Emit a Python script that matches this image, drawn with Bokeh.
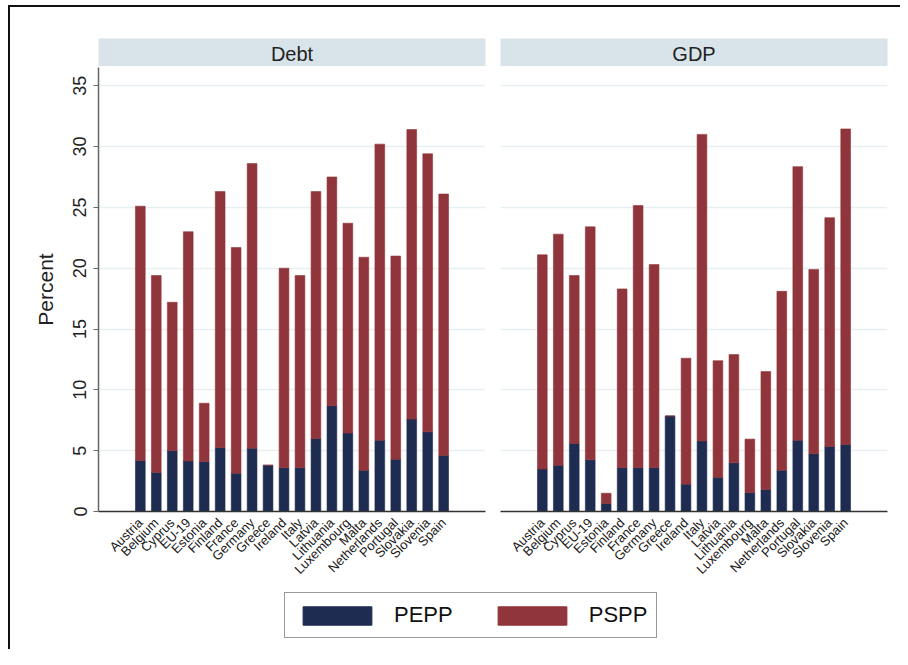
import math
from bokeh.plotting import figure
from bokeh.models import (ColumnDataSource, FactorRange, Range1d, FixedTicker,
                          Label, Legend, LegendItem, Spacer)
from bokeh.layouts import column, row
from bokeh.embed import file_html
from bokeh.resources import INLINE

countries = ["Austria", "Belgium", "Cyprus", "EU-19", "Estonia", "Finland", "France",
             "Germany", "Greece", "Ireland", "Italy", "Latvia", "Lithuania", "Luxembourg",
             "Malta", "Netherlands", "Portugal", "Slovakia", "Slovenia", "Spain"]

debt_pepp = [4.2, 3.2, 5.0, 4.15, 4.1, 5.25, 3.15, 5.2, 3.8, 3.6,
             3.6, 6.0, 8.7, 6.45, 3.4, 5.85, 4.3, 7.6, 6.55, 4.6]
debt_pspp = [20.9, 16.2, 12.2, 18.85, 4.8, 21.05, 18.55, 23.4, 0.0, 16.4,
             15.8, 20.3, 18.8, 17.25, 17.5, 24.35, 16.7, 23.8, 22.85, 21.5]

gdp_pepp = [3.5, 3.8, 5.6, 4.25, 0.65, 3.6, 3.6, 3.6, 7.85, 2.25,
            5.8, 2.8, 4.0, 1.55, 1.8, 3.4, 5.85, 4.75, 5.35, 5.5]
gdp_pspp = [17.6, 19.0, 13.8, 19.15, 0.85, 14.7, 21.55, 16.7, 0.0, 10.35,
            25.2, 9.6, 8.9, 4.4, 9.7, 14.7, 22.5, 15.15, 18.8, 25.95]

panels = ["Debt", "GDP"]
series = ["PEPP", "PSPP"]
y_ticks = [0, 5, 10, 15, 20, 25, 30, 35]

NAVY = "#1e2c52"
MAROON = "#90353b"
STRIP = "#d9e4ea"
GRID = "#e6eff1"
FONT = "Liberation Sans"

FRAME_W = 387
FRAME_H = 444


def header(text, left, right):
    h = figure(width=left + FRAME_W + right, height=59, x_range=(0, 1), y_range=(0, 1),
               min_border_top=31, min_border_bottom=0, min_border_left=left,
               min_border_right=right, toolbar_location=None, output_backend="svg",
               background_fill_color=STRIP, border_fill_color="white")
    h.outline_line_color = None
    h.axis.visible = False
    h.grid.visible = False
    h.add_layout(Label(x=0.5, y=0.45, text=text, text_align="center",
                       text_baseline="middle", text_font_size="20px",
                       text_font=FONT, text_color="#222222"))
    return h


def panel(pepp, pspp, left, right, show_y):
    src = ColumnDataSource(dict(country=countries, PEPP=pepp, PSPP=pspp))
    p = figure(width=left + FRAME_W + right, height=1 + FRAME_H + 80,
               x_range=FactorRange(factors=countries, range_padding=2.12,
                                   range_padding_units="absolute"),
               y_range=Range1d(0, 36.5),
               min_border_top=1, min_border_bottom=80, min_border_left=left,
               min_border_right=right, toolbar_location=None, output_backend="svg",
               background_fill_color="white", border_fill_color="white")
    p.outline_line_color = None
    rs = p.vbar_stack(series, x="country", width=0.61, color=[NAVY, MAROON],
                      line_color=[NAVY, MAROON], line_width=0.6, source=src)
    p.xgrid.visible = False
    p.ygrid.ticker = FixedTicker(ticks=y_ticks)
    p.ygrid.grid_line_color = GRID
    p.ygrid.grid_line_width = 1.5

    xa = p.xaxis[0]
    xa.major_label_orientation = math.pi / 4
    xa.major_label_text_font = FONT
    xa.major_label_text_font_size = "13px"
    xa.major_label_text_color = "#1a1a1a"
    xa.major_label_standoff = 3
    xa.major_tick_line_color = None
    xa.minor_tick_line_color = None
    xa.axis_line_color = "#333333"
    xa.axis_line_width = 1.5

    ya = p.yaxis[0]
    if show_y:
        ya.ticker = FixedTicker(ticks=y_ticks)
        ya.major_label_orientation = "vertical"
        ya.major_label_text_font = FONT
        ya.major_label_text_font_size = "18px"
        ya.major_label_text_color = "#222222"
        ya.major_label_standoff = 7
        ya.major_tick_out = 5
        ya.major_tick_in = 0
        ya.major_tick_line_color = "#666666"
        ya.major_tick_line_width = 1.2
        ya.minor_tick_line_color = None
        ya.axis_line_color = "#666666"
        ya.axis_line_width = 1.5
        ya.axis_label = "Percent"
        ya.axis_label_text_font = FONT
        ya.axis_label_text_font_size = "21px"
        ya.axis_label_text_font_style = "normal"
        ya.axis_label_text_color = "#222222"
        ya.axis_label_standoff = 14
    else:
        ya.visible = False
    return p, rs


h1 = header(panels[0], 88, 15)
h2 = header(panels[1], 0, 13)
p1, r1 = panel(debt_pepp, debt_pspp, 88, 15, True)
p2, r2 = panel(gdp_pepp, gdp_pspp, 0, 13, False)

# legend figure (legend only; its proxy bars lie outside the visible range)
lf = figure(width=890, height=58, x_range=(0, 1), y_range=(0, 1),
            min_border_top=0, min_border_bottom=0, min_border_left=273,
            min_border_right=0, toolbar_location=None, output_backend="svg",
            background_fill_color="white", border_fill_color="white")
lf.outline_line_color = None
lf.axis.visible = False
lf.grid.visible = False
lsrc = ColumnDataSource(dict(x=[-10], top=[-10]))
g1 = lf.vbar(x="x", top="top", width=0.5, color=NAVY, source=lsrc)
g2 = lf.vbar(x="x", top="top", width=0.5, color=MAROON, source=lsrc)
leg = Legend(items=[LegendItem(label=series[0], renderers=[g1]),
                    LegendItem(label=series[1], renderers=[g2])],
             orientation="horizontal", location="top_left", margin=1,
             padding=9, spacing=36, label_standoff=14,
             glyph_width=86, glyph_height=23,
             label_text_font=FONT, label_text_font_size="22px",
             label_text_color="#111111", label_height=22,
             border_line_color="#333333", border_line_width=1.5,
             background_fill_color="white")
lf.add_layout(leg)

inner = column(row(h1, h2), row(p1, p2), lf,
               styles={"border-left": "2px solid #111111",
                       "border-top": "2px solid #111111"})
layout = column(Spacer(height=5), row(Spacer(width=8), inner))

open("out.html", "w").write(file_html(layout, INLINE))
